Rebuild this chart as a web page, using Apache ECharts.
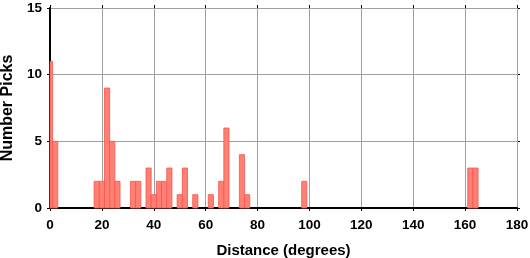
<!DOCTYPE html>
<html><head><meta charset="utf-8">
<script src="https://cdn.jsdelivr.net/npm/echarts@6/dist/echarts.min.js"></script>
<style>html,body{margin:0;padding:0;background:#fff}#c{width:530px;height:258px}</style>
</head><body><div id="c"></div>
<script>
// Histogram bins (2-degree width), centers in degrees
const binCenters = [0, 2, 18, 20, 22, 24, 26, 32, 34, 38, 40, 42, 44, 46, 50, 52, 56, 62, 66, 68, 74, 76, 98, 162, 164];
const binCounts  = [11, 5, 2, 2, 9, 5, 2, 2, 2, 3, 1, 2, 2, 3, 1, 3, 1, 1, 2, 6, 4, 1, 2, 3, 3];
const binWidth = 2;
const xTicks = [0, 20, 40, 60, 80, 100, 120, 140, 160, 180];
const yTicks = [0, 5, 10, 15];

const font = 'Liberation Sans, Arial, Helvetica, sans-serif';
const chart = echarts.init(document.getElementById('c'), null, {renderer: 'canvas'});
const data = binCenters.map((c, i) => [c, binCounts[i]]);

chart.setOption({
  animation: false,
  grid: {left: 50, right: 13, top: 8, bottom: 50, show: false, containLabel: false, outerBoundsMode: 'none'},
  xAxis: [{
    type: 'value', min: 0, max: 180, interval: 20, position: 'bottom',
    name: 'Distance (degrees)', nameLocation: 'middle', nameGap: 35,
    nameTextStyle: {fontFamily: font, fontWeight: 'bold', fontSize: 15, color: '#000'},
    axisLine: {show: true, onZero: false, lineStyle: {color: '#000', width: 2}},
    axisTick: {show: true, inside: false, length: 3, lineStyle: {color: '#000'}},
    axisLabel: {fontFamily: font, fontWeight: 'bold', fontSize: 13.5, color: '#000', margin: 10,
      formatter: v => xTicks.includes(v) ? String(v) : ''},
    splitLine: {show: true, lineStyle: {color: '#a0a0a0', width: 1}},
    z: 1
  }, {
    type: 'value', min: 0, max: 180, interval: 20, position: 'top',
    axisLine: {show: true, onZero: false, lineStyle: {color: '#000', width: 1}},
    axisTick: {show: true, inside: false, length: 3, lineStyle: {color: '#000'}},
    axisLabel: {show: false}, splitLine: {show: false}
  }],
  yAxis: [{
    type: 'value', min: 0, max: 15, interval: 5, position: 'left',
    name: 'Number Picks', nameLocation: 'middle', nameGap: 31, nameRotate: 90,
    nameTextStyle: {fontFamily: font, fontWeight: 'bold', fontSize: 16, color: '#000'},
    axisLine: {show: true, onZero: false, lineStyle: {color: '#000', width: 2}},
    axisTick: {show: true, inside: false, length: 3, lineStyle: {color: '#000'}},
    axisLabel: {fontFamily: font, fontWeight: 'bold', fontSize: 13.5, color: '#000', margin: 8,
      formatter: v => yTicks.includes(v) ? String(v) : ''},
    splitLine: {show: true, lineStyle: {color: '#a0a0a0', width: 1}},
    z: 1
  }, {
    type: 'value', min: 0, max: 15, interval: 5, position: 'right',
    axisLine: {show: true, onZero: false, lineStyle: {color: '#000', width: 1}},
    axisTick: {show: true, inside: false, length: 3, lineStyle: {color: '#000'}},
    axisLabel: {show: false}, splitLine: {show: false}
  }],
  series: [{
    type: 'custom',
    xAxisIndex: 0, yAxisIndex: 0,
    data: data,
    renderItem: function (params, api) {
      const c = api.value(0), v = api.value(1);
      const p1 = api.coord([c - binWidth / 2, v]);
      const p2 = api.coord([c + binWidth / 2, 0]);
      const rect = echarts.graphic.clipRectByRect(
        {x: p1[0], y: p1[1], width: p2[0] - p1[0], height: p2[1] - p1[1]},
        {x: params.coordSys.x, y: params.coordSys.y, width: params.coordSys.width, height: params.coordSys.height}
      );
      if (!rect) return;
      return {type: 'rect', shape: rect,
        style: {fill: '#ff8073', stroke: '#f5554f', lineWidth: 0.8}};
    },
    z: 3
  }]
});
</script></body></html>
